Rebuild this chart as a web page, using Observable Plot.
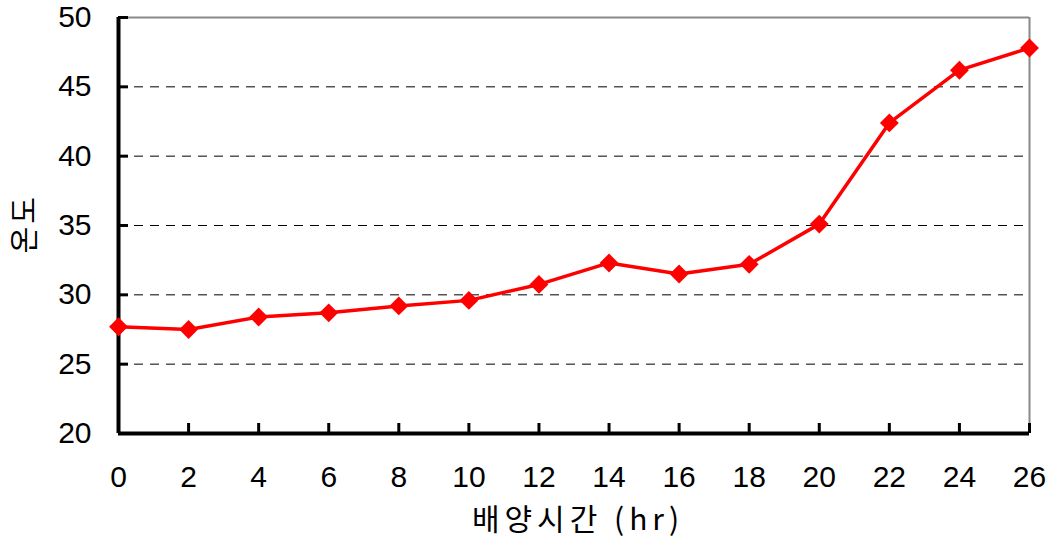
<!DOCTYPE html>
<html><head><meta charset="utf-8">
<script src="https://cdn.jsdelivr.net/npm/d3@7"></script>
<script src="https://cdn.jsdelivr.net/npm/@observablehq/plot@0.6"></script>
<style>body{margin:0;background:#fff;} svg{display:block;} .lbl text{letter-spacing:5px;} .lbly text{letter-spacing:3px;}</style>
</head><body><div id="chart"></div>
<script>
const hours = [0, 2, 4, 6, 8, 10, 12, 14, 16, 18, 20, 22, 24, 26];
const temps = [27.7, 27.5, 28.4, 28.7, 29.2, 29.6, 30.75, 32.3, 31.5, 32.2, 35.1, 42.4, 46.2, 47.8];
const xTicks = [0, 2, 4, 6, 8, 10, 12, 14, 16, 18, 20, 22, 24, 26];
const yTicks = [20, 25, 30, 35, 40, 45, 50];
const gridTicks = [25, 30, 35, 40, 45];
const xLabel = "배양시간 (hr)";
const yLabel = "온도";

const data = hours.map((h, i) => ({h, t: temps[i]}));
const W = 1050, H = 542, mL = 118, mR = 21, mT = 17, mB = 109;
const pw = W - mL - mR, ph = H - mT - mB;
const num = "'Liberation Sans', Arial, sans-serif";
const kr = "'Noto Sans CJK KR', sans-serif";

const chart = Plot.plot({
  width: W, height: H,
  marginLeft: mL, marginRight: mR, marginTop: mT, marginBottom: mB,
  style: {fontFamily: num, background: "#fff"},
  x: {domain: [0, 26]},
  y: {domain: [20, 50]},
  marks: [
    Plot.ruleY(gridTicks, {stroke: "#000", strokeWidth: 1, strokeDasharray: "9,7"}),
    Plot.ruleY([50], {stroke: "#888", strokeWidth: 2}),
    Plot.ruleX([26], {stroke: "#888", strokeWidth: 2}),
    Plot.tickY(yTicks, {y: d => d, stroke: "#000", strokeWidth: 3, insetRight: pw - 10}),
    Plot.tickX(xTicks, {x: d => d, stroke: "#000", strokeWidth: 3, insetTop: ph - 10}),
    Plot.ruleX([0], {stroke: "#000", strokeWidth: 4}),
    Plot.ruleY([20], {stroke: "#000", strokeWidth: 4}),
    Plot.axisX(xTicks, {tickSize: 0, tickPadding: 32, fontSize: 30, fill: "#000", label: null}),
    Plot.axisY(yTicks, {tickSize: 0, tickPadding: 27, fontSize: 30, fill: "#000", label: null}),
    Plot.line(data, {x: "h", y: "t", stroke: "#ff0000", strokeWidth: 3.5}),
    Plot.dot(data, {x: "h", y: "t", symbol: "diamond2", r: 8.5, fill: "#ff0000", stroke: "none"}),
    Plot.text([xLabel], {frameAnchor: "bottom", dy: 96, dx: 4, fontSize: 30, fontFamily: kr, fill: "#000", className: "lbl"}),
    Plot.text([yLabel], {frameAnchor: "left", dx: -93, dy: 28, rotate: -90, fontSize: 29, fontFamily: kr, fill: "#000", className: "lbly"})
  ]
});
document.getElementById("chart").appendChild(chart);
</script>
</body></html>
